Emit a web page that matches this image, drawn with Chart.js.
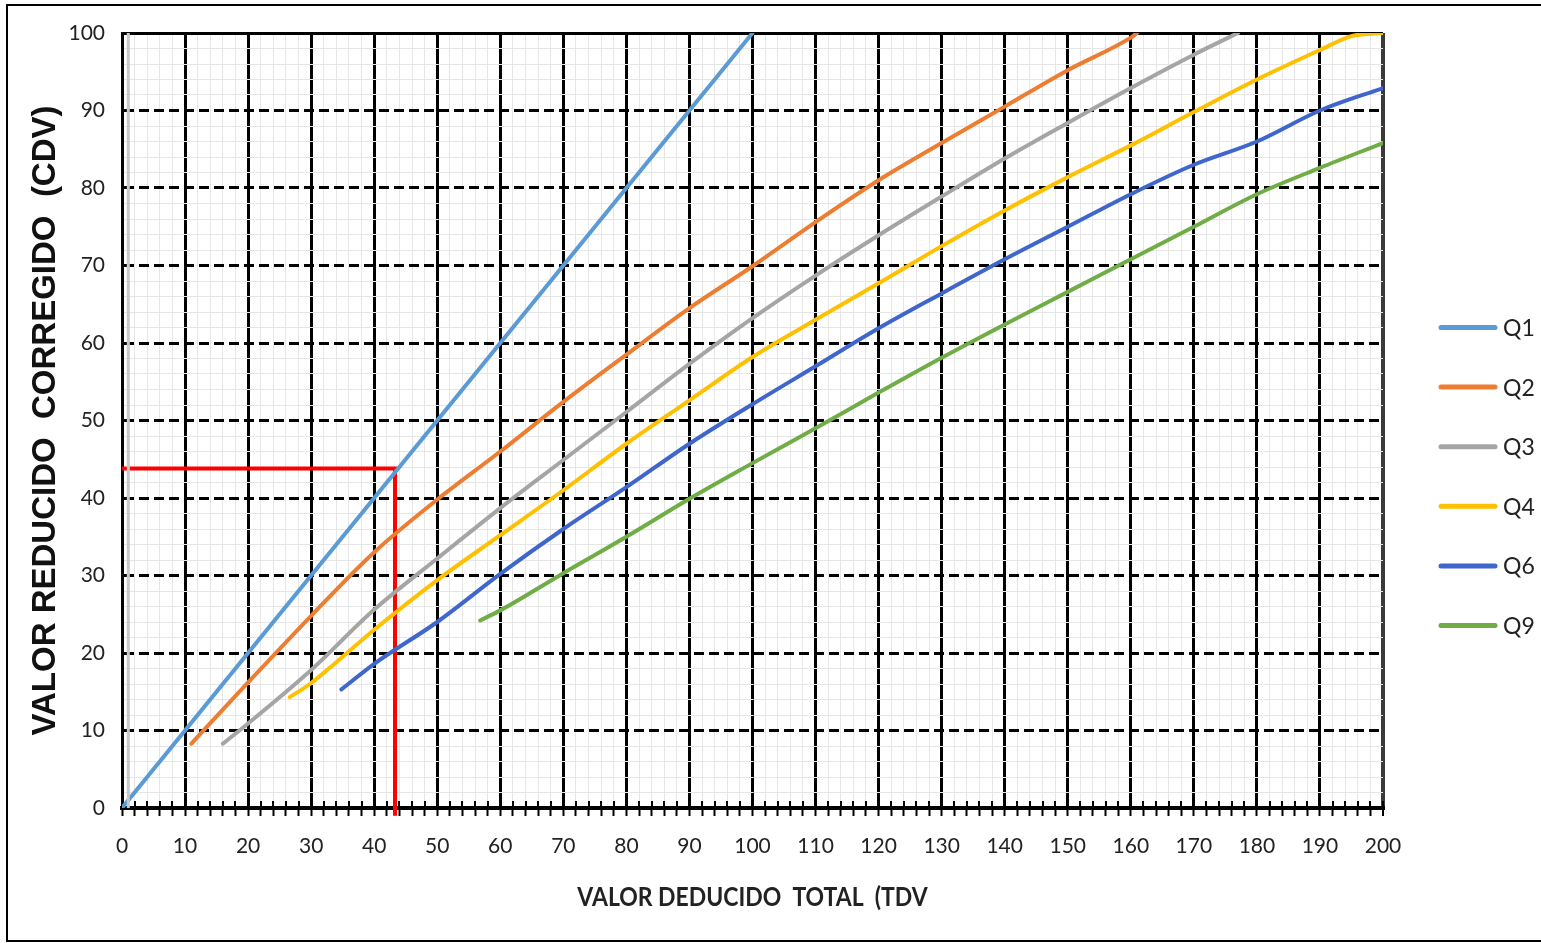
<!DOCTYPE html>
<html lang="es">
<head>
<meta charset="UTF-8">
<title>Valor reducido corregido vs valor deducido total</title>
<script src="https://cdn.jsdelivr.net/npm/chart.js"></script>
<style>
  html, body { margin: 0; padding: 0; background: #fff; overflow: hidden; }
  .wrap { position: relative; width: 1541px; height: 943px; }
  .frame { position: absolute; left: 6px; top: 4px; width: 1600px; height: 934px; border: 2px solid #000; pointer-events: none; }
  canvas { position: absolute; left: 0; top: 0; }
</style>
</head>
<body>
<div class="wrap">
  <canvas id="cdvChart" width="1541" height="943"></canvas>
  <div class="frame"></div>
</div>
<script>
// curvas q
const seriesNames = ['Q1', 'Q2', 'Q3', 'Q4', 'Q6', 'Q9'];
const seriesColors = ['#5B9BD5', '#ED7D31', '#A5A5A5', '#FFC000', '#3F66CC', '#70AD47'];

const q1Tdv = [0, 100];
const q1Cdv = [0, 100];

const q2Tdv = [11, 20, 30, 40, 50, 60, 70, 80, 90, 100, 110, 120, 130, 140, 150, 160, 161];
const q2Cdv = [8.3, 16.2, 24.8, 33, 39.8, 46, 52.4, 58.5, 64.5, 69.9, 75.6, 81, 85.8, 90.5, 95.2, 99.4, 100];

const q3Tdv = [16, 20, 30, 40, 50, 60, 70, 80, 90, 100, 110, 120, 130, 140, 150, 160, 170, 177];
const q3Cdv = [8.3, 10.9, 17.8, 25.6, 32.2, 38.7, 44.9, 51.1, 57.3, 63.2, 68.7, 73.9, 78.9, 83.8, 88.4, 92.9, 97.2, 100];

const q4Tdv = [26.6, 29.8, 40, 50, 60, 70, 80, 90, 100, 110, 120, 130, 140, 150, 160, 170, 180, 190, 195, 200];
const q4Cdv = [14.3, 16, 23, 29.4, 35.2, 41, 47, 52.6, 58.2, 63, 67.7, 72.5, 77.1, 81.4, 85.5, 89.8, 94, 97.8, 99.6, 100];

const q6Tdv = [34.8, 40, 50, 60, 70, 80, 90, 100, 110, 120, 130, 140, 150, 160, 170, 180, 190, 200];
const q6Cdv = [15.3, 18.6, 24, 30.2, 36, 41.4, 47, 52.1, 57, 61.9, 66.4, 70.8, 75, 79.2, 83, 86, 90, 92.9];

const q9Tdv = [56.8, 60, 70, 80, 90, 100, 110, 120, 130, 140, 150, 160, 170, 180, 190, 200];
const q9Cdv = [24.2, 25.5, 30.3, 35, 39.9, 44.5, 49, 53.6, 58.1, 62.4, 66.6, 70.8, 75, 79.2, 82.6, 85.8];

// lectura del ejemplo (linea roja)
const readTdv = [0, 43.3, 43.3];
const readCdv = [43.8, 43.8, -1];

// linea gris junto al eje
const guideTdv = [1, 1];
const guideCdv = [0, 100];

const seriesTdv = [q1Tdv, q2Tdv, q3Tdv, q4Tdv, q6Tdv, q9Tdv];
const seriesCdv = [q1Cdv, q2Cdv, q3Cdv, q4Cdv, q6Cdv, q9Cdv];

const xTitle = 'VALOR DEDUCIDO  TOTAL  (TDV';
const yTitle = 'VALOR REDUCIDO  CORREGIDO  (CDV)';

function toPoints(xs, ys) {
    return xs.map((x, i) => ({ x: x, y: ys[i] }));
}

const isMajor = v => Math.abs(v % 10) < 1e-6;

const datasets = [{
    label: 'guia',
    data: toPoints(guideTdv, guideCdv),
    borderColor: '#c8c8c8',
    borderWidth: 3,
    pointRadius: 0
}];

seriesNames.forEach((name, i) => {
    datasets.push({
        label: name,
        data: toPoints(seriesTdv[i], seriesCdv[i]),
        borderColor: seriesColors[i],
        borderWidth: 4,
        borderCapStyle: 'round',
        pointRadius: 0,
        cubicInterpolationMode: 'monotone'
    });
});

datasets.push({
    label: 'lectura',
    data: toPoints(readTdv, readCdv),
    borderColor: '#FF0000',
    borderWidth: 4,
    pointRadius: 0,
    clip: false
});

// marcas del eje x que cruzan la linea del eje
const axisTicks = {
    id: 'axisTicks',
    beforeDatasetsDraw(chart) {
        const ctx = chart.ctx;
        const xs = chart.scales.x;
        const bottom = chart.chartArea.bottom;
        ctx.save();
        ctx.strokeStyle = '#000';
        ctx.lineWidth = 2;
        xs.ticks.forEach(t => {
            const px = Math.round(xs.getPixelForValue(t.value));
            ctx.beginPath();
            ctx.moveTo(px, bottom - 7);
            ctx.lineTo(px, bottom);
            ctx.stroke();
        });
        ctx.restore();
    }
};

// titulo del eje x, algo estrecho como en el original
const xTitlePlugin = {
    id: 'xTitlePlugin',
    afterDraw(chart) {
        const ctx = chart.ctx;
        const area = chart.chartArea;
        ctx.save();
        ctx.translate((area.left + area.right) / 2, 897);
        ctx.scale(0.85, 1);
        ctx.fillStyle = '#222';
        ctx.font = 'bold 27px Lato';
        ctx.textAlign = 'center';
        ctx.textBaseline = 'middle';
        ctx.fillText(xTitle, 0, 0);
        ctx.restore();
    }
};

// leyenda a la derecha
const qLegend = {
    id: 'qLegend',
    afterDraw(chart) {
        const ctx = chart.ctx;
        const x0 = chart.chartArea.right + 58;
        const yMid = chart.height / 2 + 5;
        ctx.save();
        seriesNames.forEach((name, i) => {
            const y = yMid + (i - 2.5) * 59.6;
            ctx.strokeStyle = seriesColors[i];
            ctx.lineWidth = 5;
            ctx.lineCap = 'round';
            ctx.beginPath();
            ctx.moveTo(x0, y);
            ctx.lineTo(x0 + 54, y);
            ctx.stroke();
            ctx.fillStyle = '#222';
            ctx.font = '23px Lato';
            ctx.textBaseline = 'middle';
            ctx.fillText(name, x0 + 62, y + 1);
        });
        ctx.restore();
    }
};

new Chart(document.getElementById('cdvChart'), {
    type: 'line',
    data: { datasets: datasets },
    plugins: [axisTicks, xTitlePlugin, qLegend],
    options: {
        responsive: false,
        animation: false,
        layout: { padding: { top: 33, right: 158, left: 0, bottom: 0 } },
        plugins: {
            legend: { display: false },
            tooltip: { enabled: false }
        },
        scales: {
            x: {
                type: 'linear',
                min: 0,
                max: 200,
                afterFit: s => { s.height = 135; },
                ticks: {
                    stepSize: 2,
                    autoSkip: false,
                    maxRotation: 0,
                    padding: 18,
                    color: '#222',
                    font: { family: 'Lato', size: 21 },
                    callback: v => isMajor(v) ? v : ''
                },
                grid: {
                    color: c => c.tick.value === 200 ? '#3a3a3a' : (isMajor(c.tick.value) ? '#000' : '#e6e6e6'),
                    lineWidth: c => c.tick.value === 200 ? 4 : (isMajor(c.tick.value) ? 3 : 1),
                    tickColor: '#000',
                    tickWidth: 2,
                    tickLength: 8
                },
                border: { color: '#000', width: 4 }
            },
            y: {
                min: 0,
                max: 100,
                afterFit: s => { s.width = 122; },
                ticks: {
                    stepSize: 2,
                    autoSkip: false,
                    padding: 17,
                    color: '#222',
                    font: { family: 'Lato', size: 21 },
                    callback: v => isMajor(v) ? v : ''
                },
                grid: {
                    drawTicks: false,
                    color: c => isMajor(c.tick.value) ? '#000' : '#e6e6e6',
                    lineWidth: c => isMajor(c.tick.value) ? 3 : 1
                },
                border: {
                    color: '#000',
                    width: 3,
                    dash: c => (c.tick && isMajor(c.tick.value) && c.tick.value !== 100) ? [10, 5] : []
                },
                title: {
                    display: true,
                    text: yTitle,
                    color: '#111',
                    font: { family: "'Liberation Sans', Arial", weight: 'bold', size: 33 },
                    padding: { top: 26, bottom: 0 }
                }
            }
        }
    }
});
</script>
</body>
</html>
